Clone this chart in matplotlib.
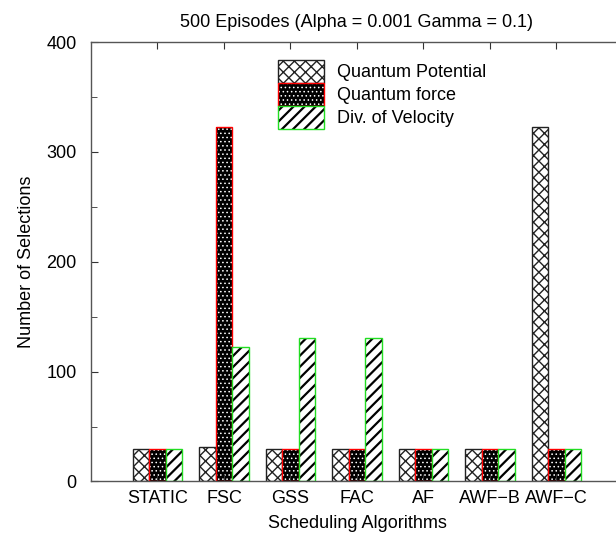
import matplotlib

matplotlib.use("Agg")
import matplotlib.pyplot as plt
import numpy as np
from matplotlib.legend_handler import HandlerPatch, HandlerTuple
from matplotlib.patches import Patch, Rectangle
from matplotlib.ticker import MultipleLocator

plt.rcParams["font.family"] = ["Liberation Sans", "DejaVu Sans"]
plt.rcParams["font.size"] = 13

# data
algorithms = ["STATIC", "FSC", "GSS", "FAC", "AF", "AWF\u2212B", "AWF\u2212C"]
quantum_potential = [30, 31, 30, 30, 30, 30, 323]
quantum_force = [30, 323, 30, 30, 30, 30, 30]
div_velocity = [30, 122, 131, 131, 30, 30, 30]

series_labels = ["Quantum Potential", "Quantum force", "Div. of Velocity"]
title = "500 Episodes (Alpha = 0.001 Gamma = 0.1)"

DOT_LW = 0.6     # hatch line width for the dotted fill
STRIPE_LW = 1.6  # hatch line width for the thick stripes
GREEN = "#22dd22"

fig = plt.figure(figsize=(6.16, 5.36), dpi=100)
# right edge deliberately runs past the canvas, like the gnuplot original
ax = fig.add_axes([0.1477, 0.1017, 0.8636, 0.8199])

x = np.arange(len(algorithms))
w = 0.25

# Quantum Potential: white with crosshatch, dark edge
ax.bar(x - w, quantum_potential, w, facecolor="white", edgecolor="#222222",
       hatch="xxx", linewidth=1.0)

# Quantum force: black with white dots, red outline
with plt.rc_context({"hatch.linewidth": DOT_LW}):
    ax.bar(x, quantum_force, w, facecolor="black", edgecolor="white",
           hatch="....", linewidth=0)
ax.bar(x, quantum_force, w, fill=False, edgecolor="red", linewidth=1.0)

# Div. of Velocity: thick black diagonal stripes, green outline
with plt.rc_context({"hatch.linewidth": STRIPE_LW}):
    ax.bar(x + w, div_velocity, w, facecolor="white", edgecolor="black",
           hatch="///", linewidth=0)
ax.bar(x + w, div_velocity, w, fill=False, edgecolor=GREEN, linewidth=1.0)

ax.set_xlim(-1, 7)
ax.set_ylim(0, 400)
ax.set_xticks(x)
ax.set_xticklabels(algorithms)
ax.yaxis.set_major_locator(MultipleLocator(100))
ax.yaxis.set_minor_locator(MultipleLocator(50))
ax.tick_params(axis="both", which="both", direction="in", top=True, right=True,
               color="#333333")
ax.tick_params(axis="x", length=5, pad=6)
ax.tick_params(axis="y", which="major", length=5, pad=10.5)
ax.tick_params(axis="y", which="minor", length=4)
for s in ax.spines.values():
    s.set_color("#555555")
    s.set_linewidth(1.0)

ax.set_xlabel("Scheduling Algorithms", labelpad=6)
ax.set_ylabel("Number of Selections", labelpad=8)
ax.set_title(title, pad=11, fontsize=13)


def _hatched_handle(lw):
    # legend copies drop the hatch width, so rebuild the rectangle under rc
    def make(legend, orig_handle, xdescent, ydescent, width, height, fontsize):
        with plt.rc_context({"hatch.linewidth": lw}):
            return Rectangle((-xdescent, -ydescent), width, height)
    return HandlerPatch(patch_func=make)


h_qp = Patch(facecolor="white", edgecolor="#222222", hatch="xxx", linewidth=1.0)
dots = Patch(facecolor="black", edgecolor="white", hatch="....", linewidth=0)
stripes = Patch(facecolor="white", edgecolor="black", hatch="///", linewidth=0)
h_qf = (dots, Patch(fill=False, edgecolor="red", linewidth=1.0))
h_dv = (stripes, Patch(fill=False, edgecolor=GREEN, linewidth=1.0))

ax.legend([h_qp, h_qf, h_dv], series_labels, loc="upper left",
          bbox_to_anchor=(0.3515, 0.959), frameon=False,
          handler_map={tuple: HandlerTuple(ndivide=1),
                       dots: _hatched_handle(DOT_LW),
                       stripes: _hatched_handle(STRIPE_LW)},
          handlelength=2.55, handleheight=1.58, labelspacing=0.0,
          handletextpad=0.72, borderaxespad=0, borderpad=0)

fig.savefig("out.png", dpi=100)
